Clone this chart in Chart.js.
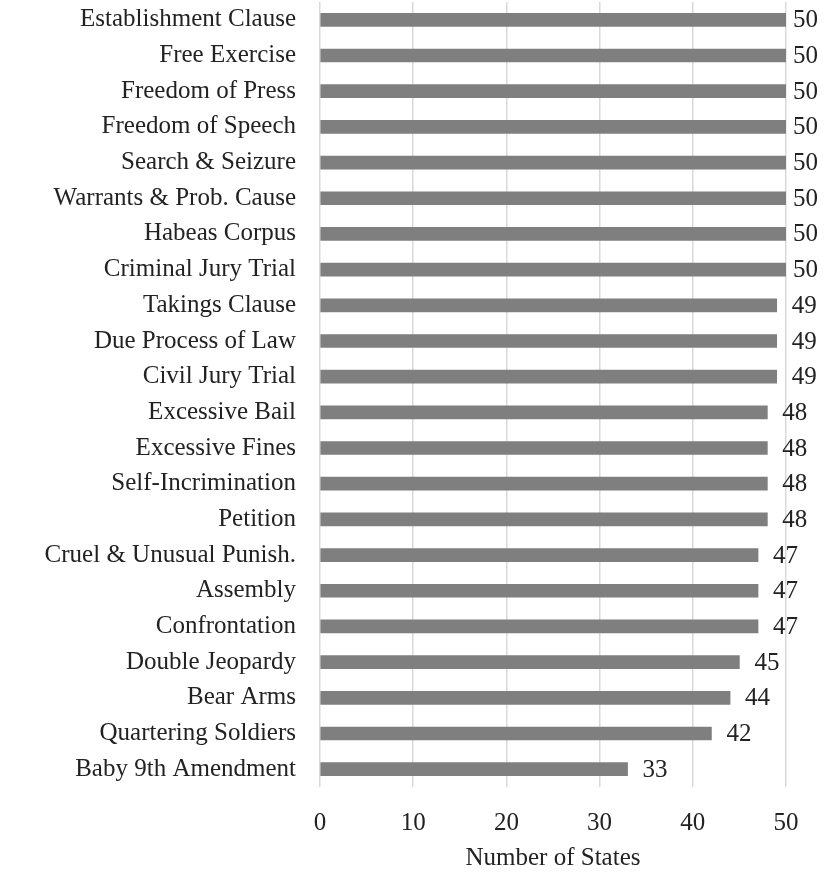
<!DOCTYPE html>
<html>
<head>
<meta charset="utf-8">
<script src="https://cdn.jsdelivr.net/npm/chart.js@4.4.1/dist/chart.umd.min.js"></script>
<style>
  html, body { margin: 0; padding: 0; background: #ffffff; }
  #wrap { width: 824px; height: 875px; }
</style>
</head>
<body>
<div id="wrap"><canvas id="c" width="824" height="875"></canvas></div>
<script>
const categories = [
  "Establishment Clause", "Free Exercise", "Freedom of Press", "Freedom of Speech",
  "Search & Seizure", "Warrants & Prob. Cause", "Habeas Corpus", "Criminal Jury Trial",
  "Takings Clause", "Due Process of Law", "Civil Jury Trial", "Excessive Bail",
  "Excessive Fines", "Self-Incrimination", "Petition", "Cruel & Unusual Punish.",
  "Assembly", "Confrontation", "Double Jeopardy", "Bear Arms",
  "Quartering Soldiers", "Baby 9th Amendment"
];
const numberOfStates = [50, 50, 50, 50, 50, 50, 50, 50, 49, 49, 49, 48, 48, 48, 48, 47, 47, 47, 45, 44, 42, 33];
const xTicks = [0, 10, 20, 30, 40, 50];
const xAxisTitle = "Number of States";

const FONT = "'Liberation Serif', 'Times New Roman', serif";
const TEXT = "#222222";
const FSIZE = 25;

const valueLabels = {
  id: 'valueLabels',
  afterDatasetsDraw(chart) {
    const ctx = chart.ctx;
    const meta = chart.getDatasetMeta(0);
    ctx.save();
    ctx.font = FSIZE + "px " + FONT;
    ctx.fillStyle = TEXT;
    ctx.textBaseline = 'middle';
    ctx.textAlign = 'left';
    meta.data.forEach((bar, i) => {
      const txt = String(chart.data.datasets[0].data[i]);
      const w = ctx.measureText(txt).width;
      let x = bar.x + 15;
      const maxX = chart.width - 6 - w;
      if (x > maxX) x = maxX;
      ctx.fillText(txt, x, bar.y + 1);
    });
    ctx.restore();
  }
};

new Chart(document.getElementById('c'), {
  type: 'bar',
  data: {
    labels: categories,
    datasets: [{
      data: numberOfStates,
      backgroundColor: '#7f7f7f',
      borderWidth: 0,
      barThickness: 13
    }]
  },
  options: {
    indexAxis: 'y',
    responsive: false,
    animation: false,
    devicePixelRatio: 1,
    layout: { padding: { top: 2, right: 38, left: 0, bottom: 0 } },
    plugins: {
      legend: { display: false },
      tooltip: { enabled: false }
    },
    scales: {
      x: {
        min: 0,
        max: 50,
        afterBuildTicks: (s) => { s.ticks = xTicks.map(v => ({ value: v })); },
        afterFit: (s) => { s.height = 88; s.paddingLeft = 0; s.paddingRight = 0; },
        grid: { color: '#d9d9d9', lineWidth: 1.5, drawTicks: false },
        border: { display: false },
        ticks: { padding: 21, color: TEXT, font: { family: FONT, size: FSIZE } },
        title: {
          display: true,
          text: xAxisTitle,
          color: TEXT,
          font: { family: FONT, size: FSIZE },
          padding: { top: 0, bottom: 2 }
        }
      },
      y: {
        afterFit: (s) => { s.width = 320; s.paddingTop = 0; s.paddingBottom = 0; },
        grid: { display: false, drawTicks: false },
        border: { display: false },
        ticks: { padding: 24, color: TEXT, font: { family: FONT, size: FSIZE }, autoSkip: false }
      }
    }
  },
  plugins: [valueLabels]
});
</script>
</body>
</html>
